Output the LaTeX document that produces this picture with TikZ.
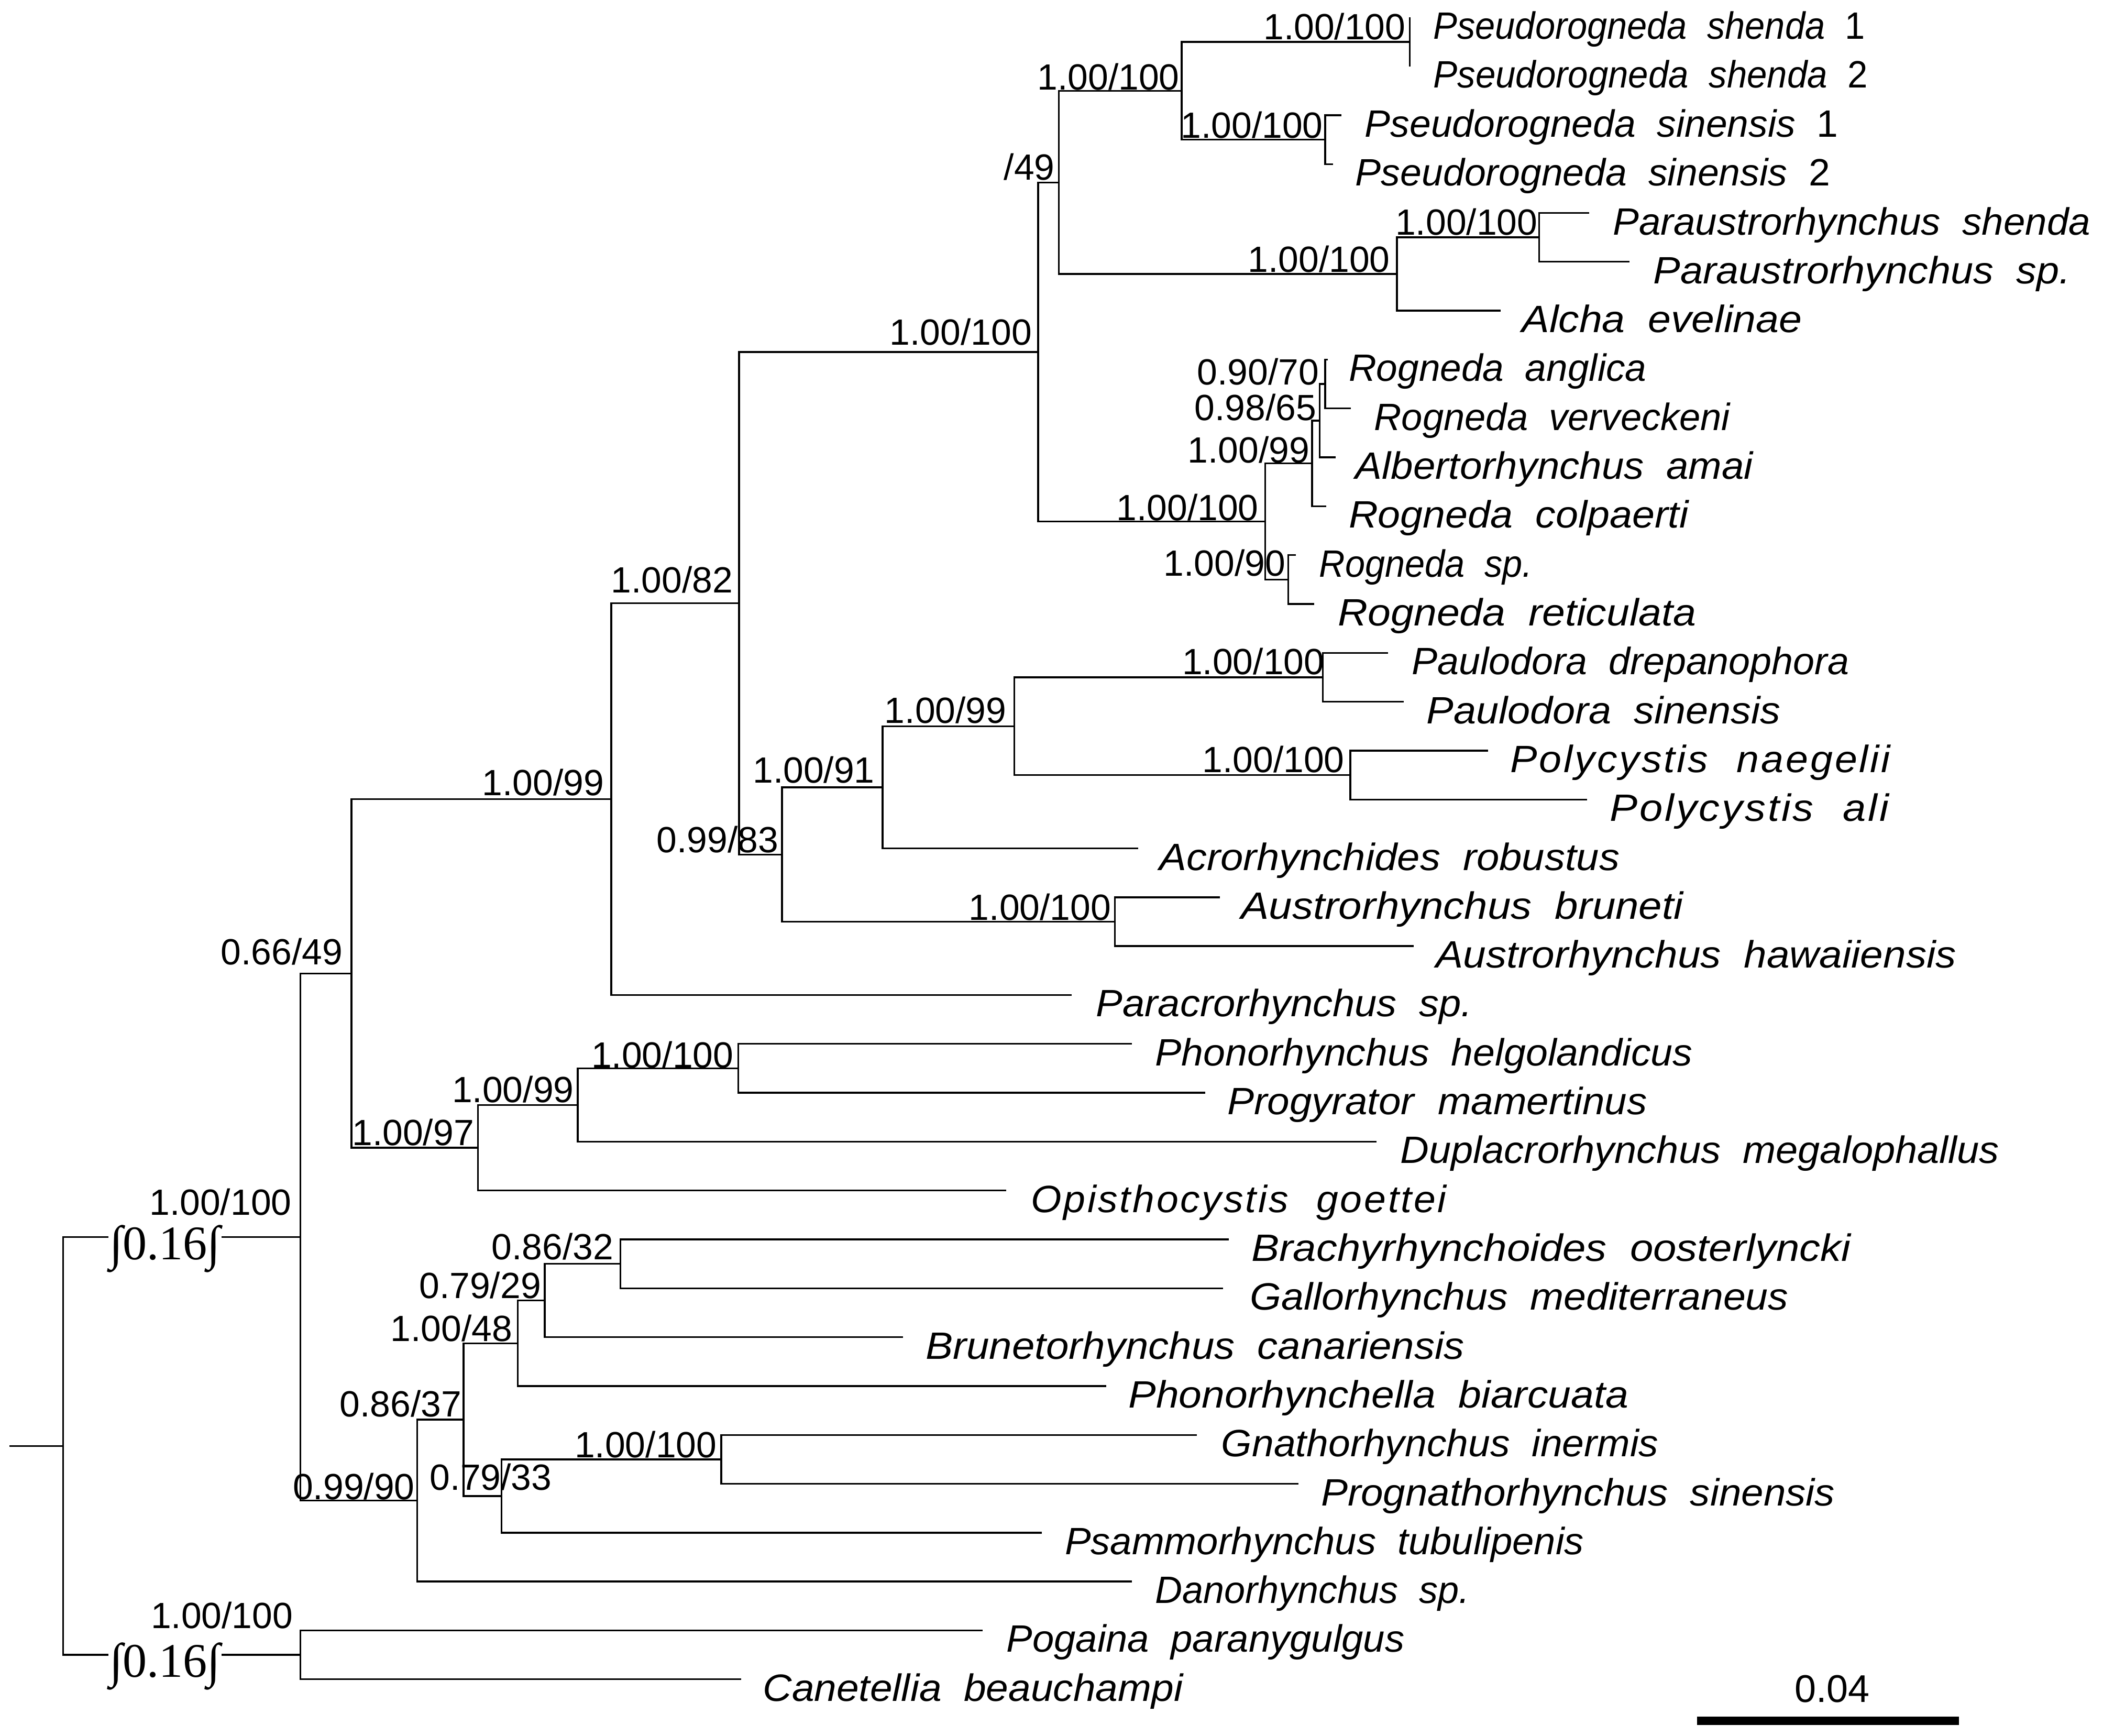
\documentclass[tikz,border=0pt]{standalone}
\usepackage{fontspec}
\usepackage{graphicx}
\setmainfont{Liberation Sans}
\newfontfamily\brkfont{Liberation Serif}
\newfontfamily\lsfont[LetterSpace=5]{Liberation Sans}
\newlength\pxu
\setlength\pxu{0.5pt}
\newcommand\fitw[2]{\resizebox{#1\pxu}{\height}{#2}}
\newcommand\gs[2]{\textit{#1}\ \ \textit{#2}}
\newcommand\gsl[2]{{\lsfont\textit{#1}\ \ \textit{#2}}}
\begin{document}
\begin{tikzpicture}[x=0.5pt,y=-0.5pt,line width=0.65pt,
  taxon/.style={anchor=base west,inner sep=0pt,font=\fontsize{14.2}{16}\selectfont},
  supp/.style={anchor=base east,inner sep=0pt,font=\fontsize{13.6}{15}\selectfont},
  brk/.style={anchor=base,inner sep=0pt,font=\fontsize{18}{20}\selectfont\brkfont}]
\useasboundingbox (0,0) rectangle (1568,1294);
% internal nodes
\coordinate (psS) at (1051,31.22);
\coordinate (psN) at (988,104.1);
\coordinate (pseudo) at (881,67.66);
\coordinate (parau) at (1147.7,176.98);
\coordinate (para) at (1041.5,204.31);
\coordinate (n49) at (789.5,135.99);
\coordinate (rg9070) at (988,286.3);
\coordinate (rg9865) at (984,313.63);
\coordinate (rg199) at (978.3,345.52);
\coordinate (rg190) at (960.4,432.06);
\coordinate (rog) at (943.3,388.79);
\coordinate (n1100a) at (774,262.39);
\coordinate (paulo) at (986.4,504.94);
\coordinate (poly) at (1006.8,577.82);
\coordinate (n199p) at (756.3,541.38);
\coordinate (n191) at (658,586.93);
\coordinate (austro) at (831.3,687.14);
\coordinate (n9983) at (583,637.04);
\coordinate (n182) at (551,449.71);
\coordinate (n199) at (455.8,595.76);
\coordinate (phono) at (550.5,796.46);
\coordinate (n199b) at (430.7,823.79);
\coordinate (n197) at (356.3,855.68);
\coordinate (upper) at (262.1,725.72);
\coordinate (b8632) at (462.7,942.22);
\coordinate (b7929) at (406.2,969.55);
\coordinate (b148) at (386,1001.44);
\coordinate (gnath) at (537.7,1087.98);
\coordinate (b7933) at (374,1115.31);
\coordinate (b8637) at (345.6,1058.37);
\coordinate (lower) at (311,1118.73);
\coordinate (ing) at (224,922.22);
\coordinate (out) at (224,1233.74);
\coordinate (root) at (47,1077.98);
\coordinate (rootstub) at (7,1077.98);
% tip ends
\coordinate (e1) at (1051,13);
\coordinate (e2) at (1051,49.44);
\coordinate (e3) at (1000,85.88);
\coordinate (e4) at (994,122.32);
\coordinate (e5) at (1185,158.76);
\coordinate (e6) at (1215,195.2);
\coordinate (e7) at (1119,231.64);
\coordinate (e8) at (990,268.08);
\coordinate (e9) at (1007,304.52);
\coordinate (e10) at (996,340.96);
\coordinate (e11) at (989,377.4);
\coordinate (e12) at (966,413.84);
\coordinate (e13) at (980,450.28);
\coordinate (e14) at (1035,486.72);
\coordinate (e15) at (1046.6,523.16);
\coordinate (e16) at (1109.4,559.6);
\coordinate (e17) at (1183.4,596.04);
\coordinate (e18) at (848.7,632.48);
\coordinate (e19) at (909.7,668.92);
\coordinate (e20) at (1054,705.36);
\coordinate (e21) at (799.2,741.8);
\coordinate (e22) at (843.9,778.24);
\coordinate (e23) at (898.8,814.68);
\coordinate (e24) at (1026.4,851.12);
\coordinate (e25) at (750.4,887.56);
\coordinate (e26) at (916,924);
\coordinate (e27) at (912,960.44);
\coordinate (e28) at (673.4,996.88);
\coordinate (e29) at (824.8,1033.32);
\coordinate (e30) at (892.4,1069.76);
\coordinate (e31) at (968.2,1106.2);
\coordinate (e32) at (776.7,1142.64);
\coordinate (e33) at (843.9,1179.08);
\coordinate (e34) at (732.8,1215.52);
\coordinate (e35) at (552.5,1251.96);
% break symbols
\node[brk] (brk1) at (123,939.1) {∫0.16∫};
\node[brk] (brk2) at (123,1250.4) {∫0.16∫};
% branches
\draw (rootstub) -- (root);
\draw (root) |- (brk1.west |- ing);
\draw (brk1.east |- ing) -- (ing);
\draw (root) |- (brk2.west |- out);
\draw (brk2.east |- out) -- (out);
\draw (ing) |- (upper); \draw (ing) |- (lower);
\draw (upper) |- (n199); \draw (upper) |- (n197);
\draw (n199) |- (n182); \draw (n199) |- (e21);
\draw (n182) |- (n1100a); \draw (n182) |- (n9983);
\draw (n1100a) |- (n49); \draw (n1100a) |- (rog);
\draw (n49) |- (pseudo); \draw (n49) |- (para);
\draw (pseudo) |- (psS); \draw (pseudo) |- (psN);
\draw (psS) |- (e1); \draw (psS) |- (e2);
\draw (psN) |- (e3); \draw (psN) |- (e4);
\draw (para) |- (parau); \draw (para) |- (e7);
\draw (parau) |- (e5); \draw (parau) |- (e6);
\draw (rog) |- (rg199); \draw (rog) |- (rg190);
\draw (rg199) |- (rg9865); \draw (rg199) |- (e11);
\draw (rg9865) |- (rg9070); \draw (rg9865) |- (e10);
\draw (rg9070) |- (e8); \draw (rg9070) |- (e9);
\draw (rg190) |- (e12); \draw (rg190) |- (e13);
\draw (n9983) |- (n191); \draw (n9983) |- (austro);
\draw (n191) |- (n199p); \draw (n191) |- (e18);
\draw (n199p) |- (paulo); \draw (n199p) |- (poly);
\draw (paulo) |- (e14); \draw (paulo) |- (e15);
\draw (poly) |- (e16); \draw (poly) |- (e17);
\draw (austro) |- (e19); \draw (austro) |- (e20);
\draw (n197) |- (n199b); \draw (n197) |- (e25);
\draw (n199b) |- (phono); \draw (n199b) |- (e24);
\draw (phono) |- (e22); \draw (phono) |- (e23);
\draw (lower) |- (b8637); \draw (lower) |- (e33);
\draw (b8637) |- (b148); \draw (b8637) |- (b7933);
\draw (b148) |- (b7929); \draw (b148) |- (e29);
\draw (b7929) |- (b8632); \draw (b7929) |- (e28);
\draw (b8632) |- (e26); \draw (b8632) |- (e27);
\draw (b7933) |- (gnath); \draw (b7933) |- (e32);
\draw (gnath) |- (e30); \draw (gnath) |- (e31);
\draw (out) |- (e34); \draw (out) |- (e35);
% taxon labels
\node[taxon] (t1) at (1068,29.2) {\fitw{322}{\gs{Pseudorogneda}{shenda}\ \ 1}};
\node[taxon] (t2) at (1068,65.6) {\fitw{324}{\gs{Pseudorogneda}{shenda}\ \ 2}};
\node[taxon] (t3) at (1017,102.1) {\fitw{353}{\gs{Pseudorogneda}{sinensis}\ \ 1}};
\node[taxon] (t4) at (1010,138.5) {\fitw{354}{\gs{Pseudorogneda}{sinensis}\ \ 2}};
\node[taxon] (t5) at (1202,175) {\fitw{356}{\gs{Paraustrorhynchus}{shenda}}};
\node[taxon] (t6) at (1232,211.4) {\fitw{311}{\gs{Paraustrorhynchus}{sp.}}};
\node[taxon] (t7) at (1134,247.8) {\fitw{209}{\gs{Alcha}{evelinae}}};
\node[taxon] (t8) at (1005,284.3) {\fitw{222}{\gs{Rogneda}{anglica}}};
\node[taxon] (t9) at (1024,320.7) {\fitw{266}{\gs{Rogneda}{verveckeni}}};
\node[taxon] (t10) at (1010,357.2) {\fitw{297}{\gs{Albertorhynchus}{amai}}};
\node[taxon] (t11) at (1005,393.6) {\fitw{254}{\gs{Rogneda}{colpaerti}}};
\node[taxon] (t12) at (983,430) {\fitw{159}{\gs{Rogneda}{sp.}}};
\node[taxon] (t13) at (997,466.5) {\fitw{267}{\gs{Rogneda}{reticulata}}};
\node[taxon] (t14) at (1052,502.9) {\fitw{326}{\gs{Paulodora}{drepanophora}}};
\node[taxon] (t15) at (1063,539.4) {\fitw{264}{\gs{Paulodora}{sinensis}}};
\node[taxon] (t16) at (1125.5,575.8) {\fitw{285.5}{\gsl{Polycystis}{naegelii}}};
\node[taxon] (t17) at (1199.5,612.2) {\fitw{210.5}{\gsl{Polycystis}{ali}}};
\node[taxon] (t18) at (863.7,648.7) {\fitw{343.3}{\gs{Acrorhynchides}{robustus}}};
\node[taxon] (t19) at (924.7,685.1) {\fitw{330.3}{\gs{Austrorhynchus}{bruneti}}};
\node[taxon] (t20) at (1070,721.6) {\fitw{388}{\gs{Austrorhynchus}{hawaiiensis}}};
\node[taxon] (t21) at (816.6,758) {\fitw{280.4}{\gs{Paracrorhynchus}{sp.}}};
\node[taxon] (t22) at (860.7,794.4) {\fitw{400.7}{\gs{Phonorhynchus}{helgolandicus}}};
\node[taxon] (t23) at (914.5,830.9) {\fitw{312.8}{\gs{Progyrator}{mamertinus}}};
\node[taxon] (t24) at (1043.5,867.3) {\fitw{446.5}{\gs{Duplacrorhynchus}{megalophallus}}};
\node[taxon] (t25) at (768,903.8) {\fitw{312}{\gsl{Opisthocystis}{goettei}}};
\node[taxon] (t26) at (932.4,940.2) {\fitw{447.6}{\gs{Brachyrhynchoides}{oosterlyncki}}};
\node[taxon] (t27) at (931.3,976.6) {\fitw{401.5}{\gs{Gallorhynchus}{mediterraneus}}};
\node[taxon] (t28) at (689.5,1013.1) {\fitw{401.8}{\gs{Brunetorhynchus}{canariensis}}};
\node[taxon] (t29) at (840.8,1049.5) {\fitw{372.7}{\gs{Phonorhynchella}{biarcuata}}};
\node[taxon] (t30) at (910,1086) {\fitw{326}{\gs{Gnathorhynchus}{inermis}}};
\node[taxon] (t31) at (984.3,1122.4) {\fitw{383.1}{\gs{Prognathorhynchus}{sinensis}}};
\node[taxon] (t32) at (793.3,1158.8) {\fitw{387}{\gs{Psammorhynchus}{tubulipenis}}};
\node[taxon] (t33) at (860.6,1195.3) {\fitw{234.4}{\gs{Danorhynchus}{sp.}}};
\node[taxon] (t34) at (749.8,1231.7) {\fitw{296.8}{\gs{Pogaina}{paranygulgus}}};
\node[taxon] (t35) at (568.2,1268.2) {\fitw{313.8}{\gs{Canetellia}{beauchampi}}};
% support values
\node[supp] (s-ing) at (218,906) {1.00/100};
\node[supp] (s-out) at (219,1214) {1.00/100};
\node[supp] (s-upper) at (256,719) {0.66/49};
\node[supp] (s-n199) at (451,593) {1.00/99};
\node[supp] (s-n197) at (354,854) {1.00/97};
\node[supp] (s-n199b) at (428.5,822) {1.00/99};
\node[supp] (s-phono) at (547.5,796) {1.00/100};
\node[supp] (s-n182) at (547,442) {1.00/82};
\node[supp] (s-n1100a) at (770,257) {1.00/100};
\node[supp] (s-n49) at (787,134) {/49};
\node[supp] (s-pseudo) at (880,67) {1.00/100};
\node[supp] (s-psS) at (1048.6,29.6) {1.00/100};
\node[supp] (s-psN) at (987,103) {1.00/100};
\node[supp] (s-para) at (1037,203) {1.00/100};
\node[supp] (s-parau) at (1147,175) {1.00/100};
\node[supp] (s-rg9070) at (984,286.7) {0.90/70};
\node[supp] (s-rg9865) at (982,313.6) {0.98/65};
\node[supp] (s-rg199) at (977,345) {1.00/99};
\node[supp] (s-rog) at (939,388) {1.00/100};
\node[supp] (s-rg190) at (959,429.5) {1.00/90};
\node[supp] (s-paulo) at (988,503) {1.00/100};
\node[supp] (s-poly) at (1003,576) {1.00/100};
\node[supp] (s-n199p) at (751,539) {1.00/99};
\node[supp] (s-n191) at (652.7,583.6) {1.00/91};
\node[supp] (s-n9983) at (581,635.4) {0.99/83};
\node[supp] (s-austro) at (829,686) {1.00/100};
\node[supp] (s-b8632) at (458,939) {0.86/32};
\node[supp] (s-b7929) at (404,968) {0.79/29};
\node[supp] (s-b148) at (382.6,1000) {1.00/48};
\node[supp] (s-b8637) at (344.7,1056) {0.86/37};
\node[supp] (s-lower) at (309.8,1118) {0.99/90};
\node[supp] (s-b7933) at (412,1111) {0.79/33};
\node[supp] (s-gnath) at (535,1086.5) {1.00/100};
% scale bar
\coordinate (sb1) at (1265.4,1282.8);
\coordinate (sb2) at (1460.6,1282.8);
\draw[line width=3.2pt] (sb1) -- (sb2);
\node[anchor=base,inner sep=0pt,font=\fontsize{14.4}{16}\selectfont] (sblab) at (1366,1269.2) {0.04};
\end{tikzpicture}
\end{document}
